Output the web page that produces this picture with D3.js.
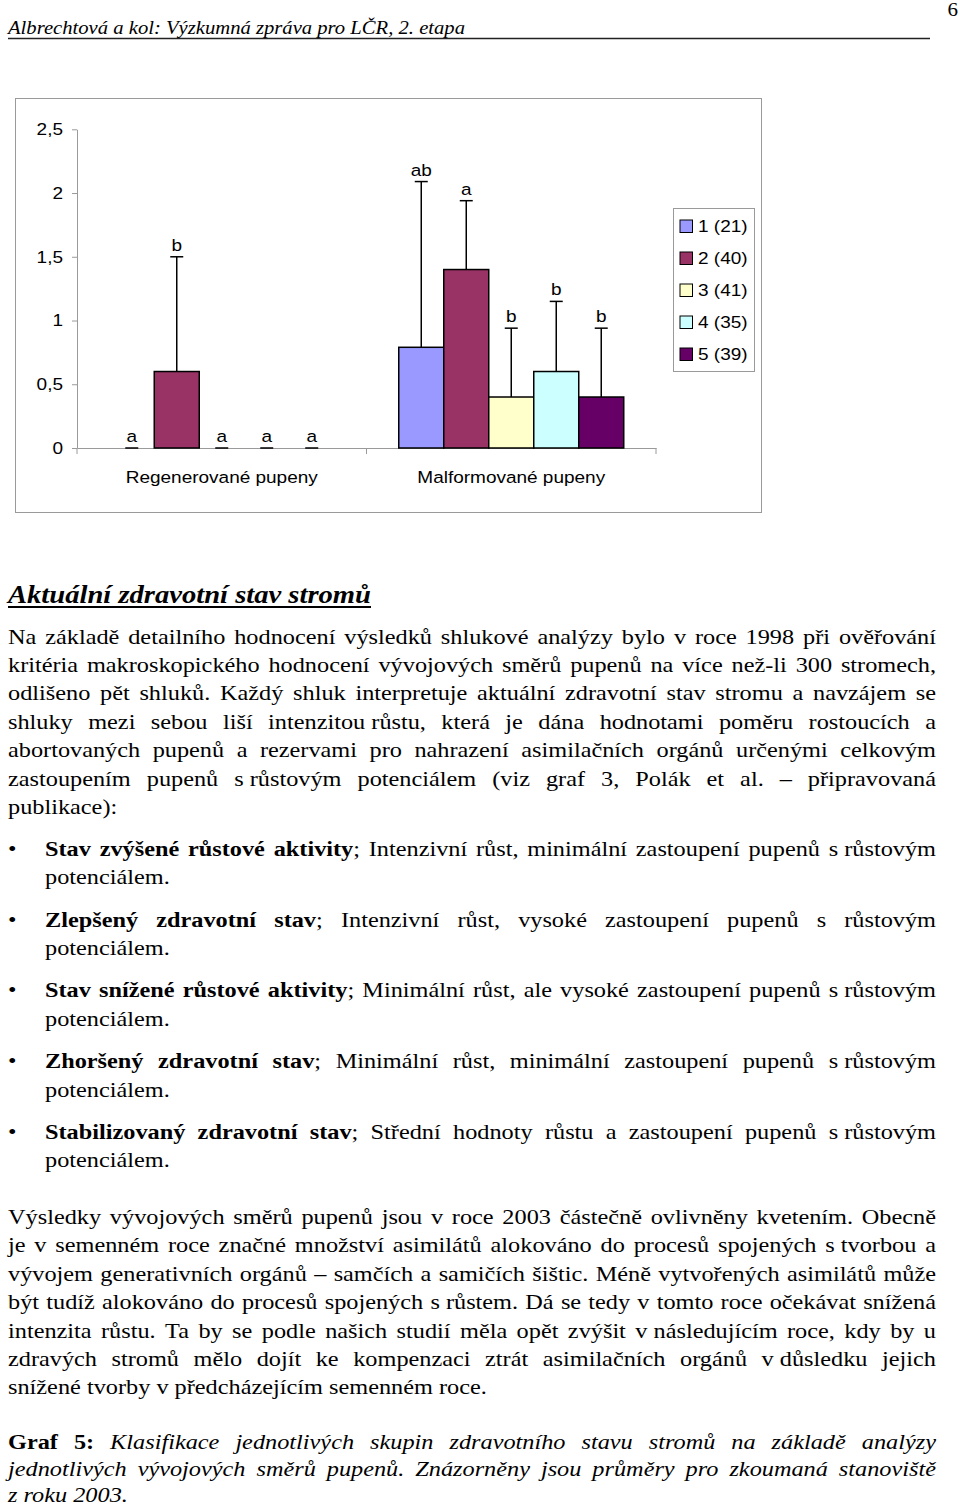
<!DOCTYPE html>
<html lang="cs">
<head>
<meta charset="utf-8">
<title>Graf 5</title>
<script src="https://cdn.jsdelivr.net/npm/d3@7"></script>
<style>
  html, body { margin: 0; padding: 0; background: #fff; }
  svg { display: block; }
  .chart text { font-family: "Liberation Sans", Arial, sans-serif; font-size: 19px; fill: #000; }
  .page text { font-family: "Liberation Serif", "Times New Roman", serif; fill: #000; }
</style>
</head>
<body>
<div id="page"></div>
<script>
// chart data
const categories = ["Regenerované pupeny", "Malformované pupeny"];
const groups = ["1", "2", "3", "4", "5"];
const groupCounts = [21, 40, 41, 35, 39];
const groupColors = ["#9999FF", "#993366", "#FFFFCC", "#CCFFFF", "#660066"];
const meanRegenerated = [0, 0.60, 0, 0, 0];
const sdRegenerated = [0, 0.90, 0, 0, 0];
const letterRegenerated = ["a", "b", "a", "a", "a"];
const meanMalformed = [0.79, 1.40, 0.40, 0.60, 0.40];
const sdMalformed = [1.30, 0.54, 0.54, 0.55, 0.54];
const letterMalformed = ["ab", "a", "b", "b", "b"];
const yTicks = [0, 0.5, 1, 1.5, 2, 2.5];

// page text
const headerText = "Albrechtová a kol: Výzkumná zpráva pro LČR, 2. etapa";
const pageNumber = "6";
const headingText = "Aktuální zdravotní stav stromů";
const paragraph1 = [
    "Na základě detailního hodnocení výsledků shlukové analýzy bylo v roce 1998 při ověřování",
    "kritéria makroskopického hodnocení vývojových směrů pupenů na více než-li 300 stromech,",
    "odlišeno pět shluků. Každý shluk interpretuje aktuální zdravotní stav stromu a navzájem se",
    "shluky mezi sebou liší intenzitou\u00A0růstu, která je dána hodnotami poměru rostoucích a",
    "abortovaných pupenů a rezervami pro nahrazení asimilačních orgánů určenými celkovým",
    "zastoupením pupenů s\u00A0růstovým potenciálem (viz graf 3, Polák et al. – připravovaná",
    "publikace):"
];
const bulletTitles = [
    "Stav zvýšené růstové aktivity",
    "Zlepšený zdravotní stav",
    "Stav snížené růstové aktivity",
    "Zhoršený zdravotní stav",
    "Stabilizovaný zdravotní stav"
];
const bulletTexts = [
    "; Intenzivní růst, minimální zastoupení pupenů s\u00A0růstovým",
    "; Intenzivní růst, vysoké zastoupení pupenů s růstovým",
    "; Minimální růst, ale vysoké zastoupení pupenů s\u00A0růstovým",
    "; Minimální růst, minimální zastoupení pupenů s\u00A0růstovým",
    "; Střední hodnoty růstu a zastoupení pupenů s\u00A0růstovým"
];
const bulletTail = "potenciálem.";
const paragraph2 = [
    "Výsledky vývojových směrů pupenů jsou v roce 2003 částečně ovlivněny kvetením. Obecně",
    "je v semenném roce značné množství asimilátů alokováno do procesů spojených s\u00A0tvorbou a",
    "vývojem generativních orgánů – samčích a samičích šištic. Méně vytvořených asimilátů může",
    "být tudíž alokováno do procesů spojených s\u00A0růstem. Dá se tedy v tomto roce očekávat snížená",
    "intenzita růstu. Ta by se podle našich studií měla opět zvýšit v\u00A0následujícím roce, kdy by u",
    "zdravých stromů mělo dojít ke kompenzaci ztrát asimilačních orgánů v\u00A0důsledku jejich",
    "snížené tvorby v předcházejícím semenném roce."
];
const captionLabel = "Graf 5:";
const captionLines = [
    " Klasifikace jednotlivých skupin zdravotního stavu stromů na základě analýzy",
    "jednotlivých vývojových směrů pupenů. Znázorněny jsou průměry pro zkoumaná stanoviště",
    "z roku 2003."
];

/* layout */
const W = 960, H = 1507;
const squash = 0.88;          // the scan is a bit flatter than it is wide
const bodySize = 24.3;
const textLeft = 8, textRight = 936, bulletIndent = 45;

const svg = d3.select("#page").append("svg")
    .attr("xmlns", "http://www.w3.org/2000/svg")
    .attr("width", W).attr("height", H);

svg.append("rect").attr("width", W).attr("height", H).attr("fill", "#fff");

/* ---------- the chart ---------- */
const chart = svg.append("g").attr("class", "chart");
const frame = { x: 15, y: 98, w: 746, h: 414 };
const plot = { left: 77, right: 656, top: 129.3, bottom: 448 };

chart.append("rect")
    .attr("x", frame.x + 0.5).attr("y", frame.y + 0.5)
    .attr("width", frame.w).attr("height", frame.h)
    .attr("fill", "#fff").attr("stroke", "#9a9a9a");

const x0 = d3.scaleBand().domain(categories).range([plot.left, plot.right]);
const x1 = d3.scaleBand().domain(groups).range([0, x0.bandwidth()])
    .paddingInner(0).paddingOuter(0.717);
const y = d3.scaleLinear().domain([0, 2.5]).range([plot.bottom, plot.top]);

const csLocale = d3.formatLocale({ decimal: ",", thousands: " ", grouping: [3], currency: ["", " Kč"] });
const fmt = csLocale.format("~g");

// y axis
chart.append("g")
    .attr("transform", `translate(${plot.left},0)`)
    .call(d3.axisLeft(y).tickValues(yTicks).tickSize(5).tickSizeOuter(0).tickPadding(9).tickFormat(fmt))
    .call(g => g.selectAll("path, line").attr("stroke", "#9a9a9a"))
    .call(g => g.selectAll("text")
        .attr("font-family", null).attr("font-size", null)
        .attr("transform", `scale(1,${squash})`));

// x axis, with Excel-style ticks between the categories
const xAxis = chart.append("g")
    .attr("transform", `translate(0,${plot.bottom})`)
    .call(d3.axisBottom(x0).tickSize(0).tickSizeOuter(0))
    .call(g => g.select(".domain").attr("stroke", "#9a9a9a"))
    .call(g => g.selectAll("text")
        .attr("font-family", null).attr("font-size", null)
        .attr("y", 0).attr("dy", null)
        .attr("transform", `translate(0,35) scale(1,${squash})`));

const bounds = [x0.range()[0]].concat(categories.map(c => x0(c) + x0.bandwidth()));
xAxis.selectAll("line.sep")
    .data(bounds)
    .join("line")
    .attr("class", "sep")
    .attr("x1", d => d).attr("x2", d => d)
    .attr("y1", 0).attr("y2", 6)
    .attr("stroke", "#9a9a9a");

// rows
const series = [
    { cat: categories[0], mean: meanRegenerated, sd: sdRegenerated, letter: letterRegenerated },
    { cat: categories[1], mean: meanMalformed, sd: sdMalformed, letter: letterMalformed }
];
const rows = series.flatMap(s => groups.map((g, i) => ({
    cat: s.cat, group: g, mean: s.mean[i], sd: s.sd[i], letter: s.letter[i], color: groupColors[i]
})));
const cx = d => x0(d.cat) + x1(d.group) + x1.bandwidth() / 2;

// bars
chart.append("g").selectAll("rect")
    .data(rows.filter(d => d.mean > 0))
    .join("rect")
    .attr("x", d => x0(d.cat) + x1(d.group))
    .attr("y", d => y(d.mean))
    .attr("width", x1.bandwidth())
    .attr("height", d => y(0) - y(d.mean))
    .attr("fill", d => d.color)
    .attr("stroke", "#000")
    .attr("stroke-width", 1.5);

// error bars (plus direction, capped)
const capHalf = 6.5;
const err = chart.append("g").attr("stroke", "#000").attr("stroke-width", 1.5);
err.selectAll("line.stem")
    .data(rows.filter(d => d.sd > 0))
    .join("line")
    .attr("class", "stem")
    .attr("x1", cx).attr("x2", cx)
    .attr("y1", d => y(d.mean)).attr("y2", d => y(d.mean + d.sd));
err.selectAll("line.cap")
    .data(rows)
    .join("line")
    .attr("class", "cap")
    .attr("x1", d => cx(d) - capHalf).attr("x2", d => cx(d) + capHalf)
    .attr("y1", d => y(d.mean + d.sd)).attr("y2", d => y(d.mean + d.sd));

// significance letters
chart.append("g").selectAll("text")
    .data(rows)
    .join("text")
    .attr("text-anchor", "middle")
    .attr("transform", d => `translate(${cx(d)},${y(d.mean + d.sd) - 6}) scale(1,${squash})`)
    .text(d => d.letter);

// legend
const legend = { x: 673, y: 208, w: 81, h: 163, pad: 12, swatch: 12.5 };
const legendNames = groups.map((g, i) => `${g} (${groupCounts[i]})`);
const ly = d3.scalePoint().domain(groups)
    .range([legend.y + legend.pad, legend.y + legend.pad + 4 * 32]);

chart.append("rect")
    .attr("x", legend.x + 0.5).attr("y", legend.y + 0.5)
    .attr("width", legend.w).attr("height", legend.h)
    .attr("fill", "#fff").attr("stroke", "#9a9a9a");

const items = chart.append("g").selectAll("g")
    .data(groups)
    .join("g")
    .attr("transform", d => `translate(${legend.x + 7},${ly(d)})`);
items.append("rect")
    .attr("width", legend.swatch).attr("height", legend.swatch)
    .attr("fill", (d, i) => groupColors[i])
    .attr("stroke", "#000");
items.append("text")
    .attr("transform", `translate(18,12) scale(1,${squash})`)
    .text((d, i) => legendNames[i]);

/* ---------- the page text ---------- */
const page = svg.append("g").attr("class", "page");

// one line of text; runs = [{t, b, i}], words placed one by one so justified lines stretch the spaces
function drawLine(spec) {
    const t = page.append("text")
        .attr("transform", `translate(0,${spec.y}) scale(1,${squash})`)
        .attr("font-size", spec.size || bodySize);
    const tokens = [];
    let cur = [];
    spec.runs.forEach(r => {
        r.t.split(" ").forEach((part, i) => {
            if (i > 0) { tokens.push(cur); cur = []; }
            if (part) cur.push({ t: part, b: r.b, i: r.i });
        });
    });
    tokens.push(cur);
    const toks = tokens.filter(k => k.length).map(pieces => {
        const spans = pieces.map(p => t.append("tspan")
            .attr("font-weight", p.b ? "bold" : null)
            .attr("font-style", p.i ? "italic" : null)
            .text(p.t));
        return { spans, w: d3.sum(spans, s => s.node().getComputedTextLength()) };
    });
    const total = d3.sum(toks, d => d.w);
    const gap = spec.justify && toks.length > 1 ?
        (spec.right - spec.x - total) / (toks.length - 1) :
        (spec.size || bodySize) * 0.25;
    let x = spec.x;
    toks.forEach(tk => {
        tk.spans[0].attr("x", x);
        x += tk.w + gap;
    });
    return t;
}

// running header
page.append("text")
    .attr("transform", `translate(${textLeft},34) scale(1,${squash})`)
    .attr("font-size", 22).attr("font-style", "italic")
    .attr("textLength", 457).attr("lengthAdjust", "spacingAndGlyphs")
    .text(headerText);
page.append("line")
    .attr("x1", textLeft).attr("x2", 930).attr("y1", 38.5).attr("y2", 38.5)
    .attr("stroke", "#222").attr("stroke-width", 1.3);
page.append("text")
    .attr("transform", `translate(958,16) scale(1,${squash})`)
    .attr("font-size", 21).attr("text-anchor", "end")
    .text(pageNumber);

// section heading
page.append("text")
    .attr("transform", `translate(${textLeft},603) scale(1,${squash})`)
    .attr("font-size", 28).attr("font-weight", "bold").attr("font-style", "italic")
    .attr("textLength", 363).attr("lengthAdjust", "spacingAndGlyphs")
    .text(headingText);
page.append("line")
    .attr("x1", textLeft).attr("x2", 371).attr("y1", 607).attr("y2", 607)
    .attr("stroke", "#000").attr("stroke-width", 2);

// first paragraph
const lineStep = 28.4;
paragraph1.forEach((line, i) => drawLine({
    x: textLeft, right: textRight, y: 643.5 + lineStep * i,
    justify: i < paragraph1.length - 1, runs: [{ t: line }]
}));

// bullet list
const bulletTop = 856, bulletStep = 70.7;
bulletTitles.forEach((title, i) => {
    const by = bulletTop + bulletStep * i;
    page.append("text")
        .attr("transform", `translate(${textLeft},${by}) scale(1,${squash})`)
        .attr("font-size", bodySize)
        .text("•");
    drawLine({
        x: bulletIndent, right: textRight, y: by, justify: true,
        runs: [{ t: title, b: true }, { t: bulletTexts[i] }]
    });
    drawLine({ x: bulletIndent, y: by + lineStep, runs: [{ t: bulletTail }] });
});

// second paragraph
paragraph2.forEach((line, i) => drawLine({
    x: textLeft, right: textRight, y: 1224 + lineStep * i,
    justify: i < paragraph2.length - 1, runs: [{ t: line }]
}));

// caption (its last line sits right at the bottom edge of the page image)
const capStep = 26.5;
drawLine({
    x: textLeft, right: textRight, y: 1449, justify: true,
    runs: [{ t: captionLabel, b: true }, { t: captionLines[0], i: true }]
});
drawLine({ x: textLeft, right: textRight, y: 1449 + capStep, justify: true, runs: [{ t: captionLines[1], i: true }] });
drawLine({ x: textLeft, y: 1449 + 2 * capStep, runs: [{ t: captionLines[2], i: true }] });
</script>
</body>
</html>
